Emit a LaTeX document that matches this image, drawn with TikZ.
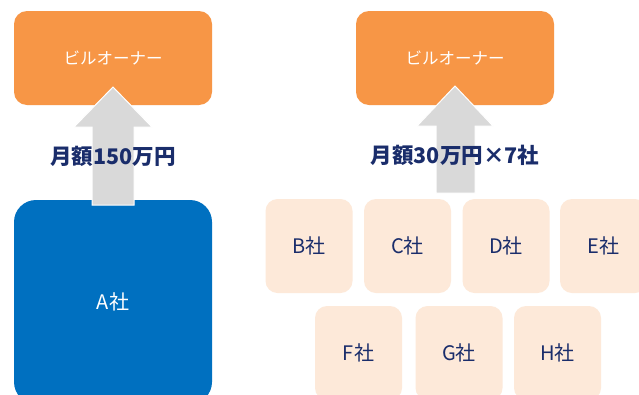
\documentclass[tikz,border=0pt]{standalone}
\usepackage{fontspec}
\setmainfont{Noto Sans CJK JP}
\definecolor{ownerorange}{HTML}{F79646}
\definecolor{abblue}{HTML}{0070C0}
\definecolor{peach}{HTML}{FDE9D9}
\definecolor{arrowgray}{HTML}{D9D9D9}
\definecolor{navy}{HTML}{1A2D6B}
\tikzset{
  owner/.style={fill=ownerorange, rounded corners=13pt, minimum width=198pt, minimum height=94pt, text=white, font=\fontsize{16.5}{18}\selectfont},
  bigco/.style={fill=abblue, rounded corners=22pt, minimum width=198pt, minimum height=204pt, text=white, font=\fontsize{20}{22}\selectfont},
  smallco/.style={fill=peach, rounded corners=12pt, minimum width=87pt, minimum height=94pt, text=navy, font=\fontsize{20}{22}\selectfont},
  amt/.style={text=navy, font=\bfseries\fontsize{21.5}{23}\selectfont},
  flow/.style={fill=arrowgray, draw=white, line width=1pt, line join=miter}
}
\begin{document}
\begin{tikzpicture}[x=1pt,y=-1pt]
\clip (0,0) rectangle (639,394);
\fill[white] (0,0) rectangle (639,394);
% left side
\node[owner] (own1) at (113,58) {ビルオーナー};
\node[bigco] (a) at (113,302) {A社};
\draw[flow] (92,205) -- (92,127) -- (74,127) -- (113,87) -- (152,127) -- (134,127) -- (134,205) -- cycle;
\node[amt] (lab1) at (113,156) {月額150万円};
% right side
\node[owner] (own2) at (455,58) {ビルオーナー};
\node[smallco] (b) at (309,246) {B社};
\node[smallco] (c) at (407.5,246) {C社};
\node[smallco] (d) at (506,246) {D社};
\node[smallco] (e) at (603.5,246) {E社};
\node[smallco] (f) at (358.5,353) {F社};
\node[smallco] (g) at (459,353) {G社};
\node[smallco] (h) at (557.5,353) {H社};
\draw[flow] (436,193) -- (436,126) -- (417,126) -- (455,86) -- (493,126) -- (475,126) -- (475,193) -- cycle;
\node[amt] (lab2) at (455,155) {月額30万円×7社};
\end{tikzpicture}
\end{document}
